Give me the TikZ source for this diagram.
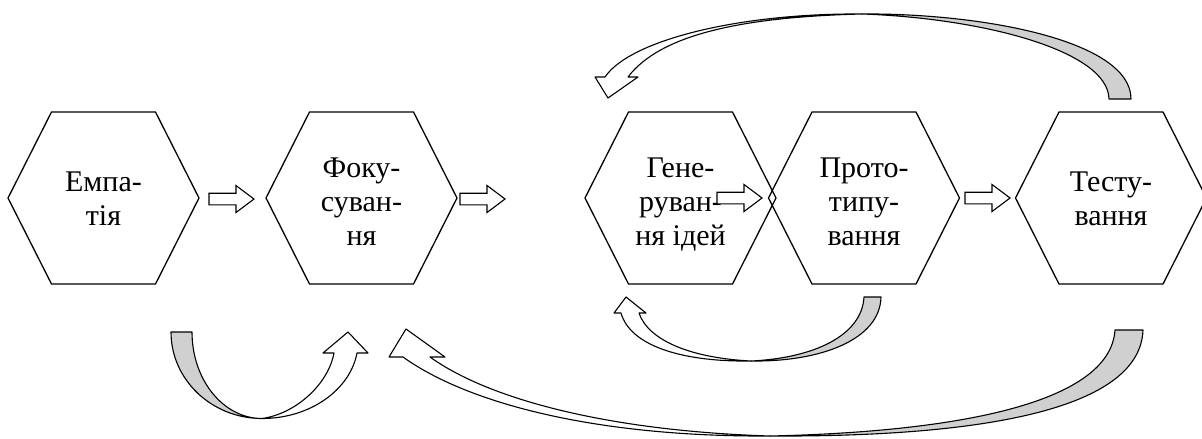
\documentclass[tikz,border=0pt]{standalone}
\usepackage{fontspec}
\setmainfont{Liberation Serif}
\usetikzlibrary{calc}
\definecolor{shadegray}{RGB}{208,208,208}
\tikzset{
  hexline/.style={draw=black, line width=1.3pt, line join=miter},
  lbl/.style={align=center, inner sep=0pt, font=\fontsize{30}{34}\selectfont, anchor=base},
  blockarr/.style={draw=black, line width=1.1pt, fill=white, line join=miter},
  ribbon/.style={draw=black, line width=1.1pt, fill=white, line join=round},
  shade/.style={draw=black, line width=1.1pt, fill=shadegray, line join=round},
}
\begin{document}
\begin{tikzpicture}[x=1pt,y=-1pt]
\useasboundingbox (0,0) rectangle (1202,439);
% hexagon centres
\coordinate (cE) at (103.5,198);
\coordinate (cF) at (361.5,198);
\coordinate (cG) at (680.5,198);
\coordinate (cP) at (864,198);
\coordinate (cT) at (1111,198);
\foreach \c in {cE,cF,cG,cP,cT}
  \draw[hexline, shift={(\c)}] (-95.5,0) -- (-52,-86) -- (52,-86) -- (95.5,0) -- (52,86) -- (-52,86) -- cycle;
% labels (base anchor = baseline of last line)
\node[lbl] (tE) at (103.5,225) {Емпа-\\тія};
\node[lbl] (tF) at (361.5,245) {Фоку-\\суван-\\ня};
\node[lbl] (tG) at (680.5,245) {Гене-\\руван-\\ня ідей};
\node[lbl] (tP) at (864,245) {Прото-\\типу-\\вання};
\node[lbl] (tT) at (1111,225) {Тесту-\\вання};
% block arrows
\coordinate (a1) at (209,199);
\coordinate (a2) at (460,199);
\coordinate (a3) at (717,198);
\coordinate (a4) at (965,198);
\foreach \a in {a1,a2,a3,a4}
  \draw[blockarr, shift={(\a)}] (0,-5.8) -- (27,-5.8) -- (27,-13.5) -- (45,0) -- (27,13.5) -- (27,5.8) -- (0,5.8) -- cycle;
% A: U-arrow under Empathy -> Focusing
\coordinate (jA) at (262,418.5);
\draw[shade] (171,332) -- (192,332) .. controls (192,379.5) and (223,418.5) .. (jA)
  .. controls (212,418.5) and (171,380) .. (171,332) -- cycle;
\draw[ribbon] (jA) .. controls (295,414) and (328,385) .. (334,353) -- (323,353) -- (348,332)
  -- (368,353) -- (357,353) .. controls (350,390) and (310,418.5) .. (jA) -- cycle;
% B: big arrow Testing -> Focusing
\coordinate (jB) at (770,436);
\draw[shade] (1115,330) -- (1143,330) .. controls (1140,415) and (960,437) .. (jB)
  .. controls (950,432) and (1110,405) .. (1115,330) -- cycle;
\draw[ribbon] (jB) .. controls (600,437) and (470,405) .. (403,357) -- (389,357) -- (406,329)
  -- (445,357) -- (430,357) .. controls (490,400) and (610,431) .. (jB) -- cycle;
% C: small arrow Prototyping -> Generating
\coordinate (jC) at (751,361);
\draw[shade] (864,297) -- (881,297) .. controls (880,340) and (820,362) .. (jC)
  .. controls (815,358) and (862,335) .. (864,297) -- cycle;
\draw[ribbon] (jC) .. controls (680,362) and (630,345) .. (621,313) -- (614,313) -- (626,297)
  -- (646,313) -- (639,313) .. controls (648,340) and (690,358) .. (jC) -- cycle;
% D: top arrow Testing -> Generating
\coordinate (jD) at (862,14);
\draw[shade] (1109,99) -- (1131,99) .. controls (1131,40) and (980,13) .. (jD)
  .. controls (980,18) and (1108,50) .. (1109,99) -- cycle;
\draw[ribbon] (jD) .. controls (740,13) and (630,40) .. (605,77) -- (595,77) -- (608,98)
  -- (638,77) -- (628,77) .. controls (660,35) and (740,17) .. (jD) -- cycle;
\end{tikzpicture}
\end{document}
